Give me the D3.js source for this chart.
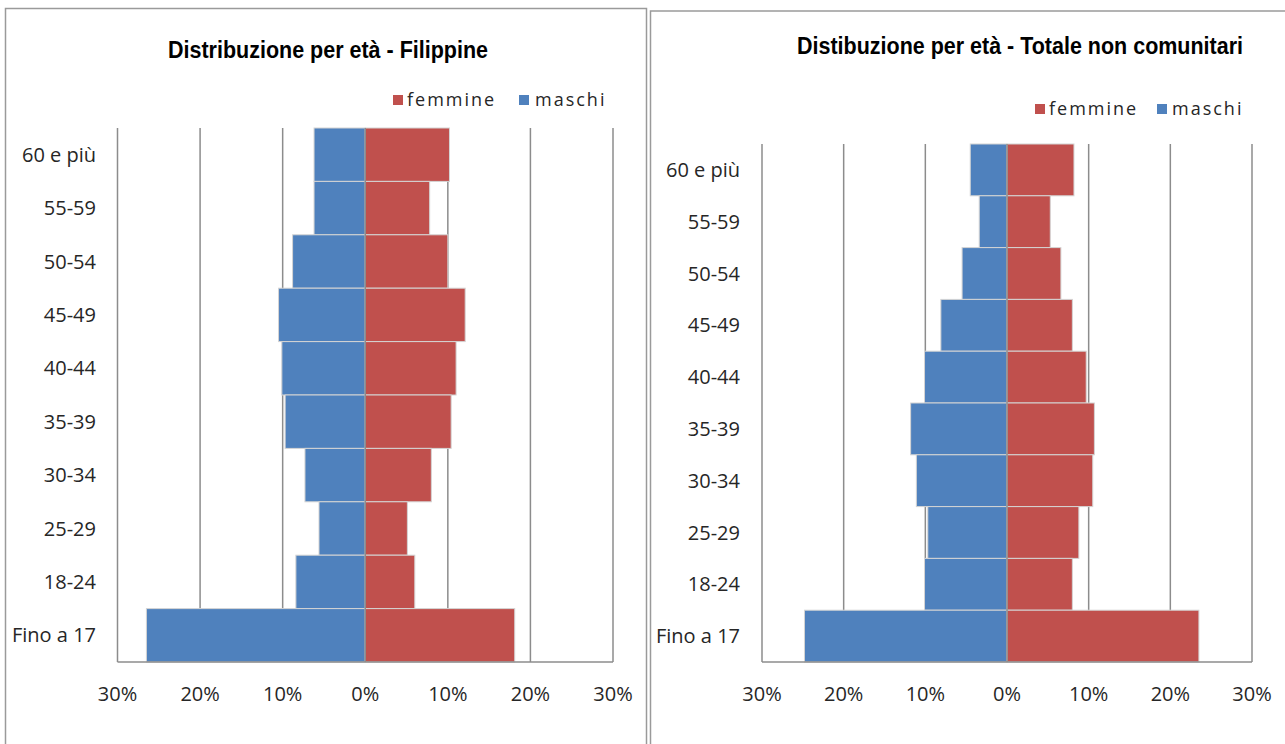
<!DOCTYPE html>
<html>
<head>
<meta charset="utf-8">
<script src="https://cdn.jsdelivr.net/npm/d3@7/dist/d3.min.js"></script>
<style>
  html, body { margin: 0; padding: 0; background: #fff; }
  svg { display: block; }
</style>
</head>
<body>
<svg id="chart" width="1285" height="744"></svg>
<script>
// ---- DATA (top to bottom) ----
const categories = ["60 e più", "55-59", "50-54", "45-49", "40-44", "35-39", "30-34", "25-29", "18-24", "Fino a 17"];
const filippineMaschi  = [6.2, 6.2, 8.8, 10.5, 10.1, 9.7, 7.3, 5.6, 8.4, 26.5];
const filippineFemmine = [10.2, 7.8, 10.0, 12.1, 11.0, 10.4, 8.0, 5.1, 6.0, 18.1];
const totaleMaschi     = [4.5, 3.4, 5.5, 8.1, 10.1, 11.8, 11.1, 9.7, 10.1, 24.8];
const totaleFemmine    = [8.2, 5.3, 6.6, 8.0, 9.7, 10.7, 10.5, 8.8, 8.0, 23.5];
const tickValues = [-30, -20, -10, 0, 10, 20, 30];
const titles = ["Distribuzione per età - Filippine", "Distibuzione per età - Totale non comunitari"];
const legendLabels = ["femmine", "maschi"];

const COLORS = { maschi: "#4F81BD", femmine: "#C0504D" };
const svg = d3.select("#chart");

// panel frames
svg.append("rect").attr("x", 5.5).attr("y", 8.5).attr("width", 641).attr("height", 760)
  .attr("fill", "none").attr("stroke", "#9a9a9a").attr("stroke-width", 1.5);
svg.append("rect").attr("x", 650.5).attr("y", 11).attr("width", 700).attr("height", 760)
  .attr("fill", "none").attr("stroke", "#9a9a9a").attr("stroke-width", 1.5);

function drawPanel(cfg) {
  const g = svg.append("g");
  const x = d3.scaleLinear().domain([-30, 30]).range([cfg.x0, cfg.x1]);
  const y = d3.scaleBand().domain(categories).range([cfg.y0, cfg.y1]).padding(0);

  // title
  g.append("text")
    .attr("x", cfg.titleX).attr("y", cfg.titleY)
    .attr("textLength", cfg.titleLen).attr("lengthAdjust", "spacingAndGlyphs")
    .style("font-family", "'Liberation Sans Narrow', 'Arial Narrow', 'Liberation Sans', Arial, sans-serif")
    .style("font-weight", "bold").style("font-size", "23px").attr("fill", "#000")
    .text(cfg.title);

  // legend
  const leg = g.append("g");
  const items = [
    { label: legendLabels[0], color: COLORS.femmine, sx: cfg.legX[0], tx: cfg.legX[1] },
    { label: legendLabels[1], color: COLORS.maschi, sx: cfg.legX[2], tx: cfg.legX[3] }
  ];
  items.forEach(it => {
    leg.append("rect").attr("x", it.sx).attr("y", cfg.legY - 5).attr("width", 10).attr("height", 10)
      .attr("fill", it.color);
    leg.append("text").attr("x", it.tx).attr("y", cfg.legY).attr("dy", "0.35em")
      .style("font-family", "'Open Sans', 'Noto Sans', sans-serif").style("font-size", "18px")
      .style("letter-spacing", "2px").attr("fill", "#262626").text(it.label);
  });

  // gridlines
  g.append("g").selectAll("line").data(tickValues).join("line")
    .attr("x1", d => x(d)).attr("x2", d => x(d))
    .attr("y1", cfg.y0).attr("y2", cfg.y1)
    .attr("stroke", "#8c8c8c").attr("stroke-width", 1.5);

  // bars
  const rows = categories.map((c, i) => ({ cat: c, m: cfg.maschi[i], f: cfg.femmine[i] }));
  g.append("g").selectAll("rect.m").data(rows).join("rect")
    .attr("x", d => x(-d.m)).attr("width", d => x(0) - x(-d.m))
    .attr("y", d => y(d.cat)).attr("height", y.bandwidth())
    .attr("fill", COLORS.maschi).attr("stroke", "#d4d4d4").attr("stroke-width", 1);
  g.append("g").selectAll("rect.f").data(rows).join("rect")
    .attr("x", x(0)).attr("width", d => x(d.f) - x(0))
    .attr("y", d => y(d.cat)).attr("height", y.bandwidth())
    .attr("fill", COLORS.femmine).attr("stroke", "#d4d4d4").attr("stroke-width", 1);

  // vertical axis line at 0
  g.append("line").attr("x1", x(0)).attr("x2", x(0)).attr("y1", cfg.y0).attr("y2", cfg.y1)
    .attr("stroke", "#8c8c8c").attr("stroke-width", 1.5);
  // bottom axis line
  g.append("line").attr("x1", cfg.x0).attr("x2", cfg.x1).attr("y1", cfg.y1).attr("y2", cfg.y1)
    .attr("stroke", "#8c8c8c").attr("stroke-width", 1.5);

  // category labels
  g.append("g").selectAll("text").data(categories).join("text")
    .attr("x", cfg.labelX).attr("y", d => y(d) + y.bandwidth() / 2).attr("dy", "0.35em")
    .attr("text-anchor", "end")
    .style("font-family", "'Open Sans', 'Noto Sans', sans-serif").style("font-size", "20px")
    .attr("fill", "#262626").text(d => d);

  // x tick labels
  const fmt = d => Math.abs(d) + "%";
  g.append("g").selectAll("text").data(tickValues).join("text")
    .attr("x", d => x(d)).attr("y", cfg.tickY).attr("text-anchor", "middle")
    .style("font-family", "'Open Sans', 'Noto Sans', sans-serif").style("font-size", "20px")
    .attr("fill", "#262626").text(fmt);
}

drawPanel({
  title: titles[0], titleX: 168, titleY: 58, titleLen: 320,
  legY: 100, legX: [393, 407, 519, 535],
  x0: 117.5, x1: 613, y0: 128, y1: 662,
  labelX: 96, tickY: 701,
  maschi: filippineMaschi, femmine: filippineFemmine
});
drawPanel({
  title: titles[1], titleX: 797, titleY: 54, titleLen: 446,
  legY: 109, legX: [1035, 1049, 1157, 1172],
  x0: 762, x1: 1252, y0: 144, y1: 662,
  labelX: 740, tickY: 701,
  maschi: totaleMaschi, femmine: totaleFemmine
});
</script>
</body>
</html>
